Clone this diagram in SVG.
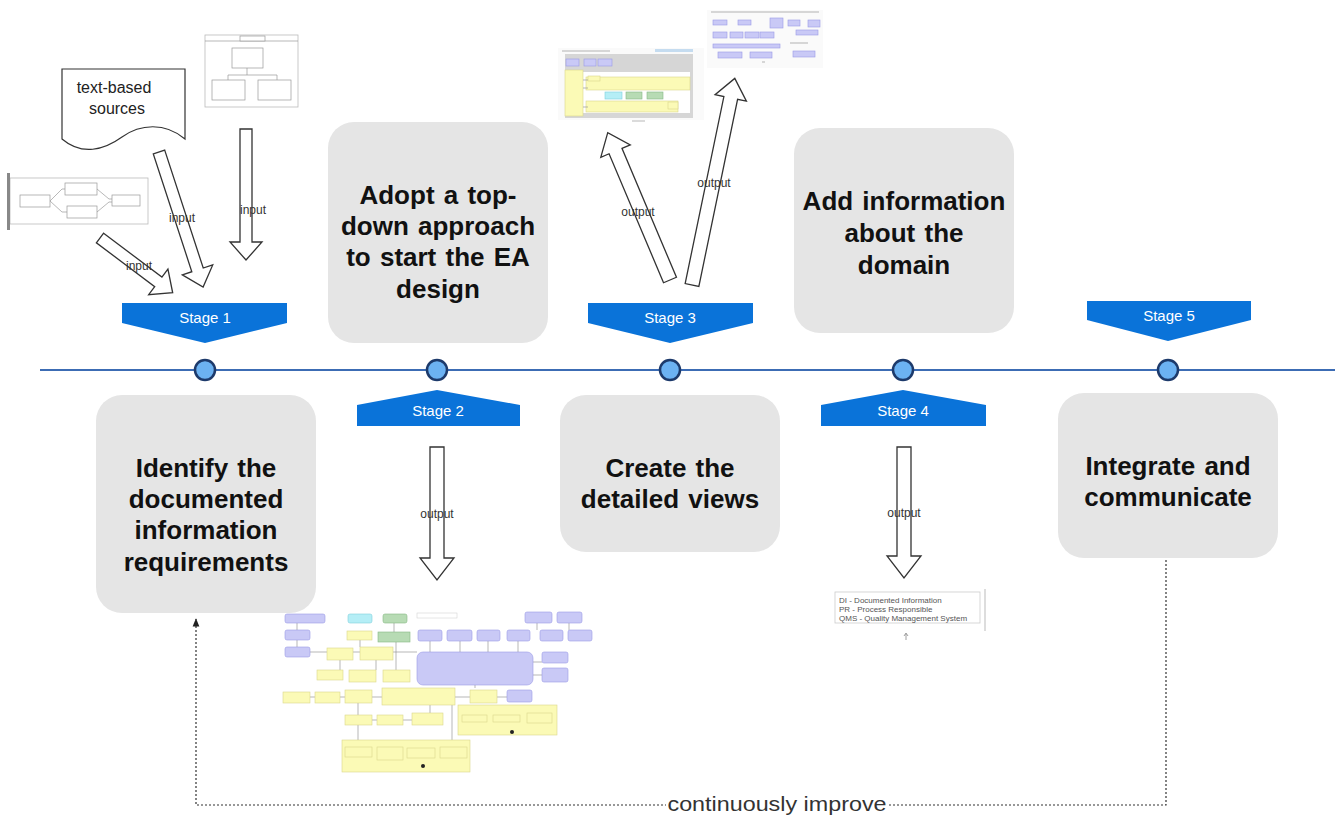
<svg xmlns="http://www.w3.org/2000/svg" width="1339" height="816" viewBox="0 0 1339 816">
  <defs>
    <style>
      .step { fill: #e5e5e5; }
      .step-text { font-family: "Liberation Sans", Arial, sans-serif; font-weight: bold; font-size: 26px; fill: #111; text-anchor: middle; word-spacing: 2px; }
      .banner { fill: #0a73d9; }
      .banner-text { font-family: "Liberation Sans", Arial, sans-serif; font-size: 15px; fill: #fff; text-anchor: middle; }
      .dot { fill: #6cb2f2; stroke: #1d3a6b; stroke-width: 2.5; }
      .blk { fill: #fff; stroke: #333; stroke-width: 1.3; stroke-linejoin: miter; }
      .lbl { font-family: "Liberation Sans", Arial, sans-serif; font-size: 12px; fill: #333; text-anchor: middle; }
      .thumb { fill: #fff; stroke: #bbb; stroke-width: 0.8; }
      .tbox { fill: #fff; stroke: #999; stroke-width: 0.7; }
      .tline { fill: none; stroke: #999; stroke-width: 0.7; }
      .pur { fill: #c9c9f6; stroke: #9a9ae6; stroke-width: 0.6; }
      .yel { fill: #fbfab6; stroke: #d9d68c; stroke-width: 0.6; }
      .cya { fill: #b5eef6; stroke: #7fd0dc; stroke-width: 0.6; }
      .grn { fill: #b7dbb4; stroke: #86b884; stroke-width: 0.6; }
      .faint { fill: #d6d6d6; }
      .legend { font-family: "Liberation Sans", Arial, sans-serif; font-size: 8px; fill: #555; }
      .loop { fill: none; stroke: #333; stroke-width: 1.2; stroke-dasharray: 2 2; }
    </style>
    <marker id="loopHead" viewBox="0 0 10 10" refX="9" refY="5" markerWidth="7" markerHeight="7" orient="auto">
      <path d="M0,1 L10,5 L0,9 Z" fill="#222"/>
    </marker>
  </defs>

  <rect width="1339" height="816" fill="#fff"/>

  <!-- timeline axis -->
  <line x1="40" y1="370" x2="1335" y2="370" stroke="#3c6cb4" stroke-width="2"/>

  <!-- stage 1 -->
  <g id="stage1">
    <polygon class="banner" points="122,303 287,303 287,323 205,343 122,323"/>
    <text class="banner-text" x="205" y="323">Stage 1</text>
    <circle class="dot" cx="205" cy="370" r="10"/>
    <rect class="step" x="96" y="395" width="220" height="218" rx="26"/>
    <text class="step-text" x="206" y="477">Identify the</text>
    <text class="step-text" x="206" y="508">documented</text>
    <text class="step-text" x="206" y="539">information</text>
    <text class="step-text" x="206" y="571">requirements</text>
  </g>

  <!-- stage 2 -->
  <g id="stage2">
    <polygon class="banner" points="357,426 520,426 520,405 437,390 357,405"/>
    <text class="banner-text" x="438" y="416">Stage 2</text>
    <circle class="dot" cx="437" cy="370" r="10"/>
    <rect class="step" x="328" y="122" width="220" height="221" rx="26"/>
    <text class="step-text" x="438" y="204">Adopt a top-</text>
    <text class="step-text" x="438" y="235">down approach</text>
    <text class="step-text" x="438" y="266">to start the EA</text>
    <text class="step-text" x="438" y="298">design</text>
  </g>

  <!-- stage 3 -->
  <g id="stage3">
    <polygon class="banner" points="588,303 753,303 753,323 670,343 588,323"/>
    <text class="banner-text" x="670" y="323">Stage 3</text>
    <circle class="dot" cx="670" cy="370" r="10"/>
    <rect class="step" x="560" y="395" width="220" height="157" rx="26"/>
    <text class="step-text" x="670" y="477">Create the</text>
    <text class="step-text" x="670" y="508">detailed views</text>
  </g>

  <!-- stage 4 -->
  <g id="stage4">
    <polygon class="banner" points="821,426 986,426 986,405 903,390 821,405"/>
    <text class="banner-text" x="903" y="416">Stage 4</text>
    <circle class="dot" cx="903" cy="370" r="10"/>
    <rect class="step" x="794" y="128" width="220" height="205" rx="26"/>
    <text class="step-text" x="904" y="210">Add information</text>
    <text class="step-text" x="904" y="242">about the</text>
    <text class="step-text" x="904" y="274">domain</text>
  </g>

  <!-- stage 5 -->
  <g id="stage5">
    <polygon class="banner" points="1087,301 1251,301 1251,320 1168,341 1087,320"/>
    <text class="banner-text" x="1169" y="321">Stage 5</text>
    <circle class="dot" cx="1168" cy="370" r="10"/>
    <rect class="step" x="1058" y="393" width="220" height="165" rx="26"/>
    <text class="step-text" x="1168" y="475">Integrate and</text>
    <text class="step-text" x="1168" y="506">communicate</text>
  </g>

  <!-- input sources -->
  <g id="src-text">
    <path d="M62,69 H185 V139 C165,122 140,124 122,137 C104,150 82,156 62,139 Z" fill="#fff" stroke="#333" stroke-width="1.2"/>
    <text x="114" y="93" font-family="Liberation Sans, Arial, sans-serif" font-size="16" fill="#222" text-anchor="middle">text-based</text>
    <text x="117" y="114" font-family="Liberation Sans, Arial, sans-serif" font-size="16" fill="#222" text-anchor="middle">sources</text>
  </g>

  <g id="src-orgchart">
    <rect class="thumb" x="205" y="35" width="93" height="72"/>
    <line class="tline" x1="205" y1="41" x2="298" y2="41"/>
    <rect class="tbox" x="240" y="36" width="25" height="5"/>
    <rect class="tbox" x="232" y="48" width="31" height="20"/>
    <path class="tline" d="M247,68 V75 M228,75 H277 M228,75 V80 M277,75 V80"/>
    <rect class="tbox" x="212" y="80" width="33" height="20"/>
    <rect class="tbox" x="258" y="80" width="33" height="20"/>
  </g>

  <g id="src-process">
    <rect class="thumb" x="10" y="178" width="138" height="46"/>
    <rect x="7" y="173" width="3" height="57" fill="#888"/>
    <rect class="tbox" x="20" y="195" width="30" height="12"/>
    <rect class="tbox" x="65" y="183" width="32" height="12"/>
    <rect class="tbox" x="67" y="206" width="30" height="12"/>
    <rect class="tbox" x="112" y="195" width="28" height="11"/>
    <path class="tline" d="M50,201 L62,189 H65 M50,201 L62,212 H67 M97,189 L109,199 H112 M97,212 L109,202 H112"/>
  </g>

  <!-- stage 2 output: process landscape -->
  <g id="out-landscape">
    <path class="tline" d="M297,623 V630 M297,640 V647 M310,652 H417 M340,660 V670 M376,660 V670 M396,642 V670 M360,640 V647 M394,623 V632 M430,641 V652 M460,641 V652 M488,641 V652 M518,641 V652 M533,662 H542 M533,675 H542 M537,623 V630 M569,623 V630 M310,697 H315 M340,697 H345 M372,697 H382 M455,697 H470 M497,697 H507 M358,703 V715 M372,720 H377 M403,720 H412 M430,705 V713 M358,725 V747 M475,685 V688 M372,752 H377 M403,752 H407 M435,752 H440 M487,718 H493 M520,718 H527 M452,705 V740"/>
    <rect class="pur" x="285" y="614" width="40" height="9" rx="2"/>
    <rect class="pur" x="285" y="630" width="25" height="10" rx="2"/>
    <rect class="pur" x="285" y="647" width="25" height="10" rx="2"/>
    <rect class="cya" x="348" y="614" width="24" height="9" rx="2"/>
    <rect class="grn" x="383" y="614" width="24" height="9" rx="2"/>
    <rect x="417" y="613" width="40" height="5" fill="#fff" stroke="#ccc" stroke-width="0.5"/>
    <rect class="yel" x="347" y="631" width="25" height="9"/>
    <rect class="grn" x="378" y="632" width="32" height="10"/>
    <rect class="pur" x="418" y="630" width="24" height="11" rx="2"/>
    <rect class="pur" x="447" y="630" width="25" height="11" rx="2"/>
    <rect class="pur" x="477" y="630" width="23" height="11" rx="2"/>
    <rect class="pur" x="507" y="630" width="23" height="11" rx="2"/>
    <rect class="pur" x="540" y="630" width="23" height="11" rx="2"/>
    <rect class="pur" x="568" y="630" width="24" height="11" rx="2"/>
    <rect class="pur" x="525" y="612" width="27" height="11" rx="2"/>
    <rect class="pur" x="557" y="612" width="25" height="11" rx="2"/>
    <rect class="pur" x="417" y="652" width="116" height="33" rx="6"/>
    <rect class="pur" x="542" y="652" width="26" height="11" rx="2"/>
    <rect class="pur" x="542" y="668" width="26" height="14" rx="2"/>
    <rect class="yel" x="327" y="648" width="26" height="12"/>
    <rect class="yel" x="360" y="647" width="33" height="13"/>
    <rect class="yel" x="317" y="670" width="26" height="10"/>
    <rect class="yel" x="349" y="670" width="27" height="12"/>
    <rect class="yel" x="383" y="670" width="27" height="12"/>
    <rect class="yel" x="283" y="692" width="27" height="11"/>
    <rect class="yel" x="315" y="692" width="25" height="11"/>
    <rect class="yel" x="345" y="690" width="27" height="13"/>
    <rect class="yel" x="382" y="688" width="73" height="17"/>
    <rect class="yel" x="470" y="690" width="27" height="13"/>
    <rect class="pur" x="507" y="690" width="25" height="12" rx="2"/>
    <rect class="yel" x="345" y="715" width="27" height="10"/>
    <rect class="yel" x="377" y="715" width="26" height="10"/>
    <rect class="yel" x="412" y="713" width="31" height="12"/>
    <rect class="yel" x="458" y="705" width="99" height="30"/>
    <rect class="yel" x="462" y="715" width="25" height="7"/>
    <rect class="yel" x="493" y="715" width="27" height="7"/>
    <rect class="yel" x="527" y="713" width="25" height="10"/>
    <rect class="yel" x="342" y="740" width="128" height="32"/>
    <rect class="yel" x="345" y="747" width="27" height="10"/>
    <rect class="yel" x="377" y="747" width="26" height="13"/>
    <rect class="yel" x="407" y="748" width="28" height="10"/>
    <rect class="yel" x="440" y="747" width="27" height="11"/>
    <circle cx="423" cy="766" r="2" fill="#222"/>
    <circle cx="512" cy="732" r="2" fill="#222"/>
  </g>

  <!-- stage 3 outputs: detailed views -->
  <g id="out-view-a">
    <rect x="558" y="48" width="146" height="72" fill="#fafafa"/>
    <rect x="562" y="50" width="48" height="2" class="faint"/>
    <rect x="655" y="49" width="38" height="3" fill="#c5dcf0"/>
    <rect x="565" y="54" width="128" height="64" fill="#d6d6d6"/>
    <rect class="pur" x="566" y="59" width="13" height="7"/>
    <rect class="pur" x="584" y="59" width="12" height="7"/>
    <rect class="pur" x="598" y="59" width="14" height="7"/>
    <rect x="583" y="72" width="107" height="41" fill="#fff"/>
    <rect class="yel" x="565" y="70" width="18" height="46"/>
    <rect class="yel" x="586" y="77" width="104" height="13"/>
    <rect class="yel" x="588" y="76" width="12" height="5"/>
    <rect class="cya" x="605" y="92" width="17" height="7"/>
    <rect class="grn" x="626" y="92" width="16" height="7"/>
    <rect class="grn" x="647" y="92" width="16" height="7"/>
    <rect class="yel" x="586" y="101" width="92" height="11"/>
    <rect class="yel" x="668" y="102" width="10" height="7"/>
    <path class="tline" d="M583,80 H588 M583,88 H588 M583,107 H588 M632,121 H645"/>
  </g>

  <g id="out-view-b">
    <rect x="707" y="10" width="116" height="58" fill="#fafafa"/>
    <rect x="711" y="11" width="108" height="2" class="faint"/>
    <rect class="pur" x="713" y="20" width="14" height="5"/>
    <rect class="pur" x="738" y="20" width="13" height="5"/>
    <rect class="pur" x="770" y="18" width="13" height="10"/>
    <rect class="pur" x="788" y="20" width="12" height="6"/>
    <rect class="pur" x="808" y="20" width="12" height="7"/>
    <rect class="pur" x="713" y="32" width="14" height="6"/>
    <rect class="pur" x="730" y="32" width="13" height="6"/>
    <rect class="pur" x="745" y="32" width="14" height="6"/>
    <rect class="pur" x="760" y="32" width="14" height="6"/>
    <rect class="pur" x="796" y="30" width="22" height="5"/>
    <rect class="pur" x="713" y="44" width="67" height="4"/>
    <rect class="pur" x="718" y="52" width="24" height="6"/>
    <rect class="pur" x="750" y="52" width="22" height="6"/>
    <rect class="pur" x="793" y="51" width="22" height="6"/>
    <rect x="790" y="42" width="18" height="2" class="faint"/>
    <rect x="762" y="61" width="3" height="2" class="faint"/>
  </g>

  <!-- stage 4 output: legend -->
  <g id="out-legend">
    <rect x="835" y="592" width="145" height="31" fill="#fff" stroke="#ccc" stroke-width="0.8"/>
    <line x1="985" y1="589" x2="985" y2="631" stroke="#bbb" stroke-width="1"/>
    <text class="legend" x="839" y="603">DI - Documented Information</text>
    <text class="legend" x="839" y="612">PR - Process Responsible</text>
    <text class="legend" x="839" y="621">QMS - Quality Management System</text>
    <path d="M906,640 V634 M904,636 L906,633 L908,636" fill="none" stroke="#777" stroke-width="0.7"/>
  </g>

  <!-- connectors: hollow block arrows and the improvement loop -->
  <g id="connectors">
    <path class="blk" transform="translate(246,129) rotate(90)" d="M0,-6 H113 V-16 L131,0 L113,16 V6 H0 Z"/>
    <path class="blk" transform="translate(159,152) rotate(71.9)" d="M0,-6 H124 V-16 L142,0 L124,16 V6 H0 Z"/>
    <path class="blk" transform="translate(100,238) rotate(37)" d="M0,-6 H73 V-16 L91,0 L73,16 V6 H0 Z"/>
    <path class="blk" transform="translate(437,447) rotate(90)" d="M0,-7 H111 V-17 L133,0 L111,17 V7 H0 Z"/>
    <path class="blk" transform="translate(904,447) rotate(90)" d="M0,-7 H109 V-17 L131,0 L109,17 V7 H0 Z"/>
    <path class="blk" transform="translate(670,280) rotate(-112.9)" d="M0,-7 H140 V-16 L160,0 L140,16 V7 H0 Z"/>
    <path class="blk" transform="translate(692,285) rotate(-78.3)" d="M0,-7 H191 V-16 L211,0 L191,16 V7 H0 Z"/>

    <text class="lbl" x="253" y="214">input</text>
    <text class="lbl" x="182" y="222">input</text>
    <text class="lbl" x="139" y="270">input</text>
    <text class="lbl" x="437" y="518">output</text>
    <text class="lbl" x="904" y="517">output</text>
    <text class="lbl" x="638" y="216">output</text>
    <text class="lbl" x="714" y="187">output</text>

    <path class="loop" d="M1166,560 V805 H196 V619" marker-end="url(#loopHead)"/>
    <rect x="666" y="792" width="222" height="22" fill="#fff"/>
    <text x="777" y="811" font-family="Liberation Sans, Arial, sans-serif" font-size="21" fill="#333" text-anchor="middle" textLength="219" lengthAdjust="spacingAndGlyphs">continuously improve</text>
  </g>
</svg>
